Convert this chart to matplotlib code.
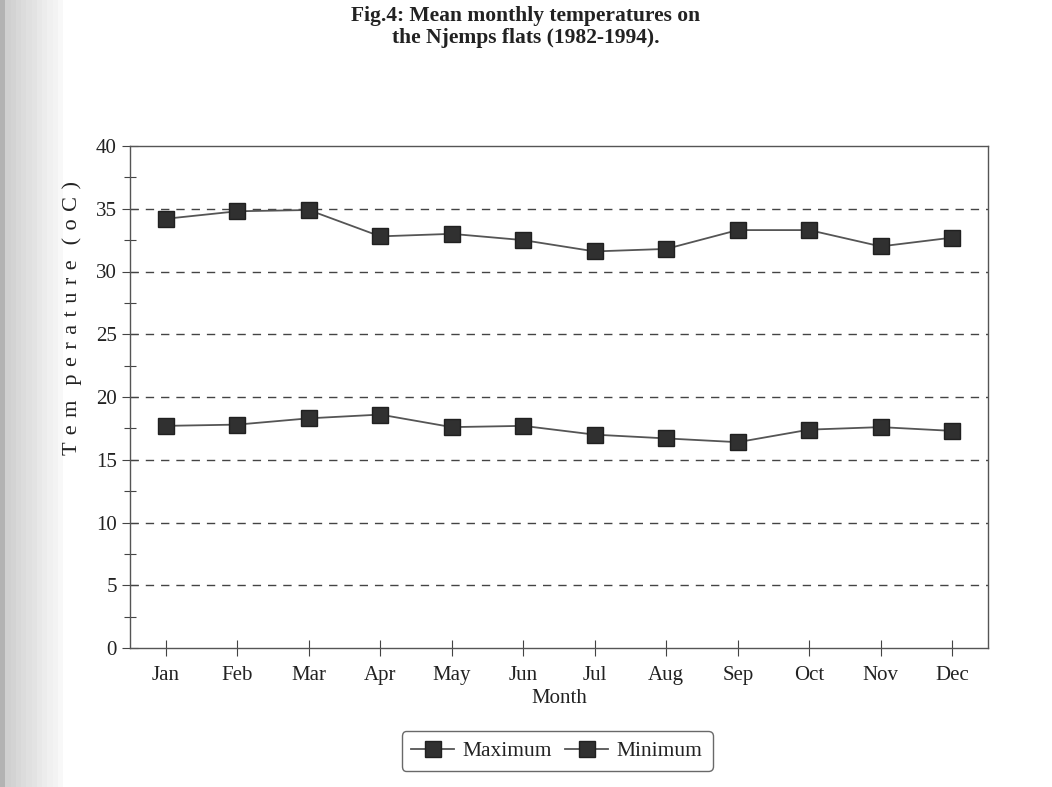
"""Mean monthly temperatures on the Njemps flats (1982-1994)."""

import numpy as np
import matplotlib.pyplot as plt

plt.rcParams["font.family"] = ["Liberation Serif", "DejaVu Serif"]

months = ["Jan", "Feb", "Mar", "Apr", "May", "Jun",
          "Jul", "Aug", "Sep", "Oct", "Nov", "Dec"]
t_max = [34.2, 34.8, 34.9, 32.8, 33.0, 32.5, 31.6, 31.8, 33.3, 33.3, 32.0, 32.7]
t_min = [17.7, 17.8, 18.3, 18.6, 17.6, 17.7, 17.0, 16.7, 16.4, 17.4, 17.6, 17.3]
y_ticks = [0, 5, 10, 15, 20, 25, 30, 35, 40]

fig = plt.figure(figsize=(10.52, 7.87), dpi=100)
fig.patch.set_facecolor("#f8f8f8")

# scanned page look: grey strip on the left edge
bg = fig.add_axes([0, 0, 1, 1], zorder=-10)
grad = np.ones((10, 200))
grad[:, :12] = np.linspace(0.80, 0.97, 12)
grad[:, 0] = 0.7
bg.imshow(grad, cmap="gray", vmin=0, vmax=1, aspect="auto",
          extent=[0, 1, 0, 1])
bg.axis("off")

ax = fig.add_axes([130 / 1052, 1 - 648 / 787, 858 / 1052, 502 / 787])
ax.set_facecolor("white")
x = np.arange(len(months))
style = dict(color="#555555", lw=1.3, marker="s", markersize=11.5,
             markerfacecolor="#303030", markeredgecolor="#202020")
ax.plot(x, t_max, label="Maximum", **style)
ax.plot(x, t_min, label="Minimum", **style)

for v in y_ticks[1:-1]:
    ax.axhline(v, color="#444444", lw=1, ls=(0, (6, 5)), zorder=0)

ax.set_xlim(-0.5, 11.5)
ax.set_ylim(0, 40)
ax.set_yticks(y_ticks)
ax.set_yticks(np.arange(2.5, 40, 5), minor=True)
ax.set_xticks(x)
ax.set_xticklabels(months)
ax.tick_params(axis="both", which="major", direction="inout", length=12,
               width=0.8, labelsize=15, color="#444444", labelcolor="#222222")
ax.tick_params(axis="y", which="minor", direction="inout", length=8,
               width=0.8, color="#444444")
ax.tick_params(axis="x", pad=7)
for s in ax.spines.values():
    s.set_color("#555555")
    s.set_linewidth(1)

ax.set_xlabel("Month", fontsize=15, labelpad=3, color="#222222")

# letter-spaced y label, sitting higher than the axes centre as in the scan
ylab = "T e m  p e r a t u r e  ( o C )".replace(" ", " \u200a")
fig.text(72 / 1052, 1 - 318 / 787, ylab, rotation=90, ha="center",
         va="center", fontsize=16, color="#222222")

fig.text(0.5, 1 - 27 / 787, "Fig.4: Mean monthly temperatures on\nthe Njemps flats (1982-1994).",
         ha="center", va="center", fontsize=15.5, fontweight="bold",
         linespacing=1.1, color="#222222")

leg = ax.legend(loc="center", bbox_to_anchor=(557 / 1052, 1 - 751 / 787),
                bbox_transform=fig.transFigure, ncol=2, fontsize=15.5,
                frameon=True, fancybox=True, handlelength=2.0,
                columnspacing=0.6, handletextpad=0.4, borderpad=0.45)
leg.get_frame().set_edgecolor("#444444")
leg.get_frame().set_linewidth(1)
for t in leg.get_texts():
    t.set_color("#222222")

fig.savefig("out.png", dpi=100, facecolor=fig.get_facecolor())
